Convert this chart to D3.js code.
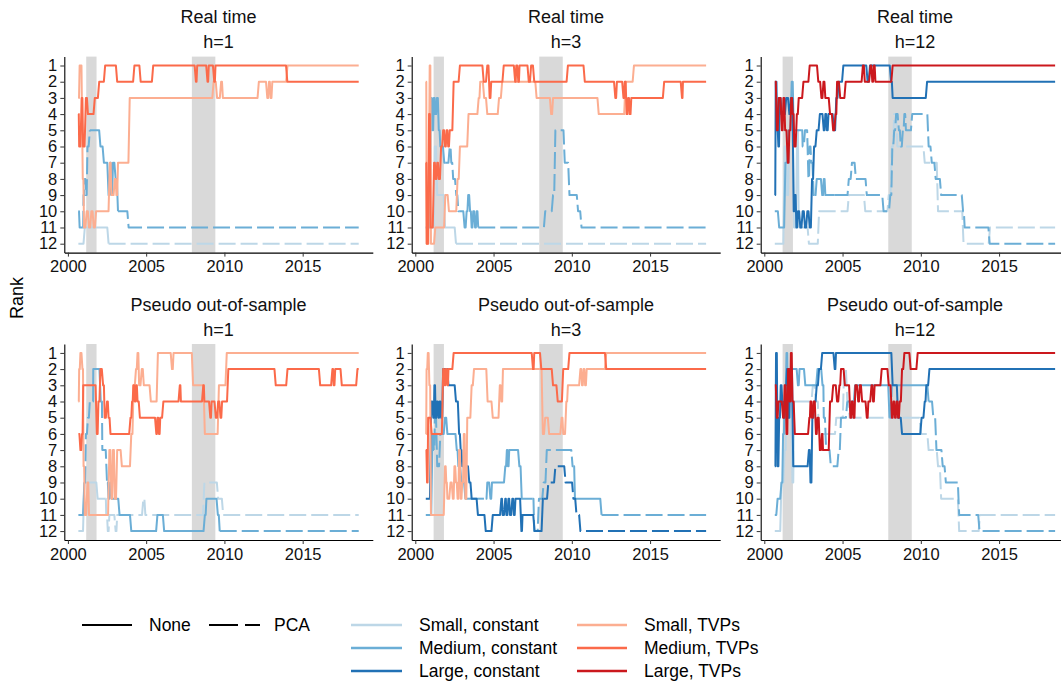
<!DOCTYPE html>
<html lang="en">
<head>
<meta charset="utf-8">
<script src="https://d3js.org/d3.v7.min.js"></script>
<style>
  body { margin: 0; background: #fff; }
  svg text { font-family: "Liberation Sans", Arial, sans-serif; }
</style>
</head>
<body>
<script>
var width = 1061, height = 686;

// first and last forecast month
var firstMonth = 2000.67, lastMonth = 2018.58;

var modelNames = ["Small, constant", "Medium, constant", "Large, constant",
                  "Small, TVPs", "Medium, TVPs", "Large, TVPs"];
var modelColors = ["#bdd7e7", "#6baed6", "#2171b5", "#fcae91", "#fb6a4a", "#cb181d"];
var reductionNames = ["None", "PCA"];
var recessions = [[2001.17, 2001.83], [2007.92, 2009.42]];
var yearTicks = [2000, 2005, 2010, 2015];
var rankTicks = [1, 2, 3, 4, 5, 6, 7, 8, 9, 10, 11, 12];
var sampleNames = ["Real time", "Real time", "Real time",
                   "Pseudo out-of-sample", "Pseudo out-of-sample", "Pseudo out-of-sample"];
var horizonNames = ["h=1", "h=3", "h=12", "h=1", "h=3", "h=12"];

// rank of each model: [year, rank] at every change; pca = spans where PCA was picked
var rtH1 = [
  {model: 0, steps: [[2000.67,12],[2001.08,11],[2002.6,12]], pca: [[2002.6,lastMonth]]},
  {model: 1, steps: [[2000.67,10],[2000.75,11],[2001.0,9],[2001.08,8],[2001.15,9],[2001.25,6],[2001.4,5],[2002.08,6],[2002.3,7],[2002.6,9],[2002.7,7],[2002.78,9],[2002.88,7],[2003.05,8],[2003.2,10],[2003.88,11]],
   pca: [[2000.95,2001.4],[2003.2,lastMonth]]},
  {model: 3, steps: [[2000.67,3],[2000.75,1],[2000.95,8],[2001.03,11],[2001.2,10],[2001.35,11],[2001.5,10],[2001.65,11],[2001.8,10],[2002.68,7],[2002.78,9],[2003.0,8],[2003.1,9],[2003.2,7],[2003.95,3],[2009.31,2],[2009.53,3],[2009.79,2],[2009.9,3],[2012.2,2],[2012.74,3],[2012.85,2],[2012.95,3],[2013.06,2],[2014.03,1]], pca: []},
  {model: 4, steps: [[2000.67,4],[2000.72,6],[2000.88,3],[2000.97,6],[2001.15,3],[2001.28,4],[2001.72,3],[2002.0,2],[2002.38,1],[2003.15,2],[2004.25,1],[2004.65,2],[2005.45,1],[2008.18,2],[2008.26,1],[2008.92,2],[2009.0,1],[2009.35,2],[2009.43,1],[2014.02,2]], pca: []}
];

var rtH3 = [
  {model: 0, steps: [[2000.67,11],[2001.25,6],[2001.4,9],[2001.9,11],[2002.6,12]], pca: [[2002.6,lastMonth]]},
  {model: 1, steps: [[2000.67,11],[2001.0,3],[2001.1,5],[2001.18,3],[2001.28,4],[2001.38,3],[2001.5,5],[2001.6,6],[2001.85,7],[2002.2,6],[2002.3,7],[2002.42,8],[2002.62,9],[2002.75,10],[2003.15,11],[2003.28,10],[2003.38,9],[2003.5,10],[2003.6,11],[2003.7,10],[2003.82,11],[2003.92,10],[2004.02,11],[2008.3,10],[2008.8,9],[2008.95,5],[2009.55,7],[2009.85,9],[2010.4,10],[2010.62,11]],
   pca: [[2001.95,2002.8],[2004.02,lastMonth]]},
  {model: 3, steps: [[2000.67,2],[2000.73,12],[2000.92,1],[2001.0,12],[2001.28,11],[2001.92,9],[2002.15,10],[2002.7,8],[2002.85,6],[2003.4,4],[2004.05,3],[2004.15,2],[2004.4,3],[2004.6,4],[2005.35,3],[2005.55,2],[2007.75,3],[2008.68,4],[2008.8,3],[2011.72,4],[2013.43,2],[2013.97,1]], pca: []},
  {model: 4, steps: [[2000.67,7],[2000.73,12],[2000.88,4],[2000.98,11],[2001.2,7],[2001.3,8],[2001.4,7],[2001.5,8],[2001.65,6],[2001.78,5],[2001.9,6],[2002.0,5],[2002.1,6],[2002.2,5],[2002.45,2],[2002.85,1],[2004.37,2],[2004.6,1],[2004.75,3],[2004.85,2],[2005.65,1],[2006.38,2],[2006.45,1],[2006.58,2],[2006.66,1],[2007.25,2],[2007.4,1],[2007.6,2],[2009.75,1],[2010.83,2],[2012.78,3],[2012.88,2],[2013.3,3],[2013.38,2],[2013.5,4],[2013.6,3],[2013.7,4],[2013.8,3],[2015.9,2],[2017.04,3],[2017.1,2]], pca: []}
];

var rtH12 = [
  {model: 0, steps: [[2000.67,12],[2001.3,6],[2001.45,9],[2001.6,5],[2001.9,11],[2002.1,5],[2002.2,11],[2002.85,12],[2003.5,10],[2005.4,9],[2006.45,10],[2007.95,9],[2008.15,6],[2008.3,4],[2008.5,6],[2010.25,7],[2011.1,10],[2012.73,12],[2014.42,11]],
   pca: [[2002.2,lastMonth]]},
  {model: 1, steps: [[2000.67,10],[2000.95,11],[2001.35,7],[2001.55,5],[2001.75,2],[2001.88,5],[2002.45,6],[2002.6,5],[2002.82,8],[2002.9,6],[2003.0,7],[2003.15,9],[2003.35,8],[2003.7,9],[2003.8,8],[2003.9,9],[2005.4,8],[2005.6,7],[2005.85,8],[2006.55,9],[2007.62,10],[2008.05,9],[2008.18,6],[2008.3,5],[2008.42,4],[2008.6,5],[2008.72,6],[2008.85,5],[2008.95,4],[2009.05,5],[2009.45,4],[2010.5,6],[2010.7,7],[2010.95,8],[2011.3,9],[2012.7,10],[2012.8,11],[2014.4,12]],
   pca: [[2002.4,2003.2],[2004.5,lastMonth]]},
  {model: 2, steps: [[2000.67,9],[2000.73,2],[2000.82,5],[2000.9,6],[2000.98,3],[2001.1,4],[2001.4,3],[2001.6,4],[2001.7,3],[2001.88,10],[2001.95,9],[2002.05,11],[2002.15,10],[2002.3,11],[2002.45,10],[2002.6,11],[2002.75,10],[2002.9,11],[2003.05,8],[2003.18,6],[2003.35,5],[2003.55,4],[2003.8,5],[2003.9,4],[2004.0,5],[2004.1,4],[2004.45,5],[2004.6,3],[2004.75,2],[2005.05,1],[2006.6,2],[2006.75,1],[2008.1,2],[2008.2,3],[2010.4,2]], pca: []},
  {model: 5, steps: [[2000.67,2],[2000.8,5],[2000.92,3],[2001.12,5],[2001.22,3],[2001.33,5],[2001.5,7],[2001.6,5],[2001.72,3],[2001.82,4],[2001.92,6],[2002.08,4],[2002.2,3],[2002.5,2],[2002.9,1],[2003.45,2],[2003.65,3],[2003.78,2],[2003.9,3],[2004.2,4],[2004.4,5],[2004.55,4],[2004.65,2],[2004.85,3],[2005.2,2],[2006.3,1],[2006.42,2],[2006.78,1],[2006.9,2],[2007.0,1],[2007.1,2],[2008.2,1]], pca: []}
];

var poosH1 = [
  {model: 0, steps: [[2000.67,12],[2001.05,9],[2001.9,10],[2002.45,11],[2002.55,12],[2002.65,11],[2003.05,12],[2003.15,11],[2004.82,10],[2004.95,11],[2008.72,9],[2009.6,10],[2009.92,11]],
   pca: [[2002.4,lastMonth]]},
  {model: 1, steps: [[2000.67,11],[2001.05,9],[2001.15,6],[2001.28,5],[2001.4,4],[2001.62,2],[2002.1,4],[2002.2,7],[2002.5,9],[2002.6,10],[2002.7,9],[2002.8,10],[2003.3,11],[2004.05,12],[2005.72,11],[2006.15,12],[2008.75,11],[2008.85,10],[2009.58,11],[2009.7,12]],
   pca: [[2001.05,2001.6],[2002.15,2002.5],[2009.7,lastMonth]]},
  {model: 3, steps: [[2000.67,4],[2000.72,2],[2000.8,1],[2000.93,2],[2001.0,8],[2001.08,11],[2001.25,9],[2001.35,11],[2002.65,7],[2002.78,10],[2002.88,7],[2003.0,10],[2003.15,7],[2003.45,8],[2004.05,6],[2004.2,3],[2004.35,2],[2004.45,1],[2004.55,3],[2004.72,2],[2004.85,3],[2005.3,4],[2005.75,1],[2006.65,2],[2006.75,1],[2008.0,3],[2008.75,6],[2009.65,3],[2010.15,1]], pca: []},
  {model: 4, steps: [[2000.67,6],[2000.8,7],[2000.9,6],[2000.98,3],[2001.85,6],[2001.95,4],[2002.08,2],[2002.25,3],[2002.35,5],[2002.5,4],[2002.6,5],[2002.72,6],[2004.0,5],[2004.1,4],[2004.18,3],[2004.28,4],[2004.36,3],[2004.45,4],[2004.6,5],[2005.65,6],[2005.72,5],[2005.82,6],[2005.9,5],[2006.1,4],[2007.15,3],[2007.22,4],[2008.65,3],[2008.72,4],[2009.1,5],[2009.18,4],[2009.45,5],[2009.6,4],[2009.75,5],[2009.85,4],[2010.25,2],[2013.28,3],[2014.03,2],[2016.12,3],[2016.9,2],[2016.98,3],[2017.08,2],[2017.5,3],[2018.5,2]], pca: []}
];

var poosH3 = [
  {model: 1, steps: [[2000.67,11],[2001.1,6],[2001.18,7],[2001.25,5],[2001.4,8],[2001.6,6],[2001.9,5],[2002.05,6],[2002.65,7],[2002.75,8],[2002.95,9],[2003.2,10],[2004.6,9],[2004.8,10],[2004.9,9],[2005.75,8],[2005.85,7],[2005.92,8],[2006.0,7],[2006.65,8],[2006.8,10],[2007.6,12],[2007.9,10],[2008.2,9],[2008.4,7],[2010.05,8],[2010.2,10],[2011.9,11]],
   pca: [[2001.1,2001.6],[2003.3,2004.5],[2007.5,2010.1],[2011.9,lastMonth]]},
  {model: 2, steps: [[2000.67,10],[2001.02,4],[2001.15,5],[2001.22,3],[2001.3,5],[2001.38,4],[2001.48,5],[2001.55,4],[2001.65,5],[2001.78,2],[2002.12,3],[2002.6,4],[2002.8,6],[2002.9,7],[2003.0,8],[2003.45,9],[2003.6,10],[2004.0,11],[2004.5,12],[2004.95,11],[2005.5,10],[2005.58,11],[2005.75,10],[2005.82,11],[2005.95,10],[2006.05,11],[2006.2,10],[2006.3,11],[2006.4,10],[2006.78,12],[2006.85,11],[2007.62,12],[2008.15,10],[2008.5,9],[2008.95,8],[2009.6,9],[2010.1,10],[2010.3,11],[2010.55,12]],
   pca: [[2008.2,lastMonth]]},
  {model: 3, steps: [[2000.67,6],[2000.72,2],[2000.8,1],[2000.9,3],[2001.0,11],[2001.9,8],[2001.98,9],[2002.05,10],[2002.25,9],[2002.4,10],[2002.5,8],[2002.6,9],[2002.7,10],[2002.8,7],[2002.9,10],[2003.0,9],[2003.1,6],[2003.2,10],[2003.32,5],[2003.6,3],[2003.75,2],[2004.62,4],[2004.95,5],[2005.4,3],[2005.5,4],[2005.6,2],[2008.15,6],[2008.3,5],[2008.55,6],[2009.35,5],[2009.45,6],[2009.65,4],[2009.75,3],[2010.55,2],[2010.65,3],[2010.75,2],[2010.85,3],[2010.95,2],[2012.2,1]], pca: []},
  {model: 4, steps: [[2000.67,7],[2000.75,9],[2000.82,5],[2001.05,6],[2001.78,2],[2001.88,3],[2001.95,2],[2002.05,3],[2002.12,2],[2002.45,1],[2007.52,2],[2007.6,1],[2008.05,2],[2008.8,3],[2009.1,4],[2009.45,2],[2009.85,1],[2012.2,2]], pca: []}
];

var poosH12 = [
  {model: 0, steps: [[2000.67,12],[2001.1,9],[2001.3,7],[2001.42,2],[2001.5,5],[2001.58,3],[2001.7,6],[2001.8,9],[2001.9,4],[2003.1,3],[2003.3,4],[2003.5,6],[2004.6,5],[2005.1,2],[2005.3,4],[2005.45,5],[2008.3,4],[2008.5,5],[2010.0,6],[2010.5,7],[2011.1,8],[2011.3,10],[2012.45,12],[2013.78,11]],
   pca: [[2001.9,lastMonth]]},
  {model: 1, steps: [[2000.67,11],[2000.85,10],[2001.1,9],[2001.2,6],[2001.3,4],[2001.42,1],[2001.5,5],[2001.6,2],[2002.15,3],[2002.25,2],[2002.62,3],[2003.4,2],[2003.72,3],[2003.8,5],[2003.95,7],[2004.25,8],[2004.75,7],[2004.9,5],[2005.3,4],[2005.8,3],[2008.0,5],[2008.15,3],[2010.5,4],[2010.8,5],[2011.0,7],[2011.4,8],[2011.6,9],[2012.45,11],[2013.75,12]],
   pca: [[2003.75,2005.3],[2008.0,2008.2],[2010.5,lastMonth]]},
  {model: 2, steps: [[2000.67,8],[2000.75,1],[2000.85,8],[2000.95,5],[2001.05,3],[2001.15,4],[2001.25,5],[2001.35,3],[2001.45,2],[2001.55,5],[2001.65,2],[2001.85,8],[2002.85,7],[2002.95,9],[2003.07,5],[2003.2,4],[2003.35,3],[2003.5,2],[2003.7,1],[2004.5,2],[2004.58,1],[2008.2,3],[2008.55,5],[2008.8,6],[2010.05,5],[2010.25,4],[2010.35,3],[2010.55,2]], pca: []},
  {model: 5, steps: [[2000.67,3],[2000.8,5],[2000.9,4],[2001.2,5],[2001.3,3],[2001.42,6],[2001.52,2],[2001.62,4],[2001.7,1],[2001.8,4],[2001.95,6],[2002.88,5],[2002.95,4],[2003.05,5],[2003.15,4],[2003.3,6],[2003.4,5],[2003.55,7],[2003.68,6],[2003.75,7],[2004.2,4],[2004.4,3],[2004.65,4],[2004.8,3],[2004.9,2],[2005.15,3],[2005.5,5],[2005.6,4],[2005.7,5],[2005.82,3],[2006.0,4],[2006.1,3],[2006.25,4],[2006.55,5],[2006.65,4],[2006.85,3],[2006.95,4],[2007.05,3],[2007.5,2],[2007.95,3],[2008.15,5],[2008.25,4],[2008.35,5],[2008.45,4],[2008.55,5],[2008.65,4],[2008.8,2],[2008.95,1],[2009.35,2],[2009.8,1]], pca: []}
];

var panelSeries = [rtH1, rtH3, rtH12, poosH1, poosH3, poosH12];

// layout
var colX = [64.3, 411.7, 760.7];
var rowTop = [56.6, 344.0];
var panelW = 308.5, panelH = 196;
var dashPattern = "17,5";
var month = 1 / 12;

var x = d3.scaleLinear().domain([1999.77, 2019.48]).range([0, panelW]);
var y = d3.scaleLinear().domain([0.45, 12.55]).range([0, panelH]);

var svg = d3.select("body").append("svg")
  .attr("width", width)
  .attr("height", height)
  .style("display", "block");

var line = d3.line()
  .x(function(d) { return x(d[0]); })
  .y(function(d) { return y(d[1]); });

function rankAt(steps, t) {
  var v = steps[0][1];
  for (var i = 0; i < steps.length; i++) {
    if (steps[i][0] <= t) v = steps[i][1];
    else break;
  }
  return v;
}

// monthly series: a rank change is joined from the previous month
function vertices(pts) {
  var out = [pts[0]];
  for (var i = 1; i < pts.length; i++) {
    var prev = pts[i - 1], cur = pts[i];
    if (cur[1] !== prev[1]) {
      var w = Math.min(month, (cur[0] - prev[0]) / 2);
      out.push([cur[0] - w, prev[1]]);
    }
    out.push(cur);
  }
  return out;
}

// split a series into solid (None) and dashed (PCA) runs
function runs(s) {
  var cuts = [firstMonth, lastMonth];
  s.pca.forEach(function(p) { cuts.push(p[0], p[1]); });
  cuts = Array.from(new Set(cuts)).sort(function(a, b) { return a - b; });
  var out = [];
  for (var i = 0; i < cuts.length - 1; i++) {
    var a = cuts[i], b = cuts[i + 1];
    var mid = (a + b) / 2;
    var dashed = s.pca.some(function(p) { return mid > p[0] && mid < p[1]; });
    var pts = [[a, rankAt(s.steps, a)]];
    s.steps.forEach(function(d) { if (d[0] > a && d[0] < b) pts.push(d); });
    pts.push([b, rankAt(s.steps, b)]);
    out.push({pts: vertices(pts), dashed: dashed, color: modelColors[s.model]});
  }
  return out;
}

panelSeries.forEach(function(series, p) {
  var col = p % 3, row = Math.floor(p / 3);
  var g = svg.append("g")
    .attr("transform", "translate(" + colX[col] + "," + rowTop[row] + ")");

  // recession bands
  g.selectAll("rect.rec")
    .data(recessions)
    .enter()
    .append("rect")
    .attr("x", function(d) { return x(d[0]); })
    .attr("width", function(d) { return x(d[1]) - x(d[0]); })
    .attr("y", 0)
    .attr("height", panelH)
    .attr("fill", "#d9d9d9");

  var sorted = series.slice().sort(function(a, b) { return a.model - b.model; });
  sorted.forEach(function(s) {
    g.selectAll(null)
      .data(runs(s))
      .enter()
      .append("path")
      .attr("d", function(d) { return line(d.pts); })
      .attr("fill", "none")
      .attr("stroke", function(d) { return d.color; })
      .attr("stroke-width", 2)
      .attr("stroke-linejoin", "round")
      .attr("stroke-dasharray", function(d) { return d.dashed ? dashPattern : null; });
  });

  // axes
  var yAxis = g.append("g")
    .call(d3.axisLeft(y).tickValues(rankTicks).tickSize(4).tickSizeOuter(0).tickPadding(3));
  var xAxis = g.append("g")
    .attr("transform", "translate(0," + panelH + ")")
    .call(d3.axisBottom(x).tickValues(yearTicks).tickFormat(d3.format("d"))
      .tickSize(4).tickSizeOuter(0).tickPadding(4));
  [yAxis, xAxis].forEach(function(a) {
    a.attr("font-family", "'Liberation Sans', Arial, sans-serif")
      .attr("font-size", 16.5);
    a.select(".domain").attr("stroke", "#000").attr("stroke-width", 1.1);
    a.selectAll(".tick line").attr("stroke", "#333");
    a.selectAll(".tick text").attr("fill", "#111");
  });

  // strip titles
  g.append("text")
    .attr("x", panelW / 2)
    .attr("y", -33.5)
    .attr("text-anchor", "middle")
    .attr("font-size", 18)
    .attr("fill", "#111")
    .text(sampleNames[p]);
  g.append("text")
    .attr("x", panelW / 2)
    .attr("y", -8.5)
    .attr("text-anchor", "middle")
    .attr("font-size", 18)
    .attr("fill", "#111")
    .text(horizonNames[p]);
});

// y axis title
svg.append("text")
  .attr("transform", "translate(23,298) rotate(-90)")
  .attr("text-anchor", "middle")
  .attr("font-size", 18)
  .text("Rank");

// legend: dimension reduction
var legLine = svg.append("g");
var legY = 625;
var typeKeys = [{x1: 82, x2: 132, tx: 149}, {x1: 209, x2: 260, tx: 274}];
reductionNames.forEach(function(name, i) {
  var k = typeKeys[i];
  legLine.append("line")
    .attr("x1", k.x1).attr("x2", k.x2)
    .attr("y1", legY).attr("y2", legY)
    .attr("stroke", "#000")
    .attr("stroke-width", 2)
    .attr("stroke-dasharray", i === 1 ? "29,7" : null);
  legLine.append("text")
    .attr("x", k.tx)
    .attr("y", legY + 6)
    .attr("font-size", 17.5)
    .text(name);
});

// legend: model colours, two columns of three
var legCols = [{x1: 351, x2: 402, tx: 419}, {x1: 577, x2: 627, tx: 644}];
var legend = svg.selectAll("g.key")
  .data(modelNames)
  .enter()
  .append("g")
  .attr("transform", function(d, i) {
    return "translate(0," + (legY + (i % 3) * 23) + ")";
  });
legend.append("line")
  .attr("x1", function(d, i) { return legCols[Math.floor(i / 3)].x1; })
  .attr("x2", function(d, i) { return legCols[Math.floor(i / 3)].x2; })
  .attr("stroke", function(d, i) { return modelColors[i]; })
  .attr("stroke-width", 2.6);
legend.append("text")
  .attr("x", function(d, i) { return legCols[Math.floor(i / 3)].tx; })
  .attr("y", 6)
  .attr("font-size", 17.5)
  .text(function(d) { return d; });
</script>
</body>
</html>
